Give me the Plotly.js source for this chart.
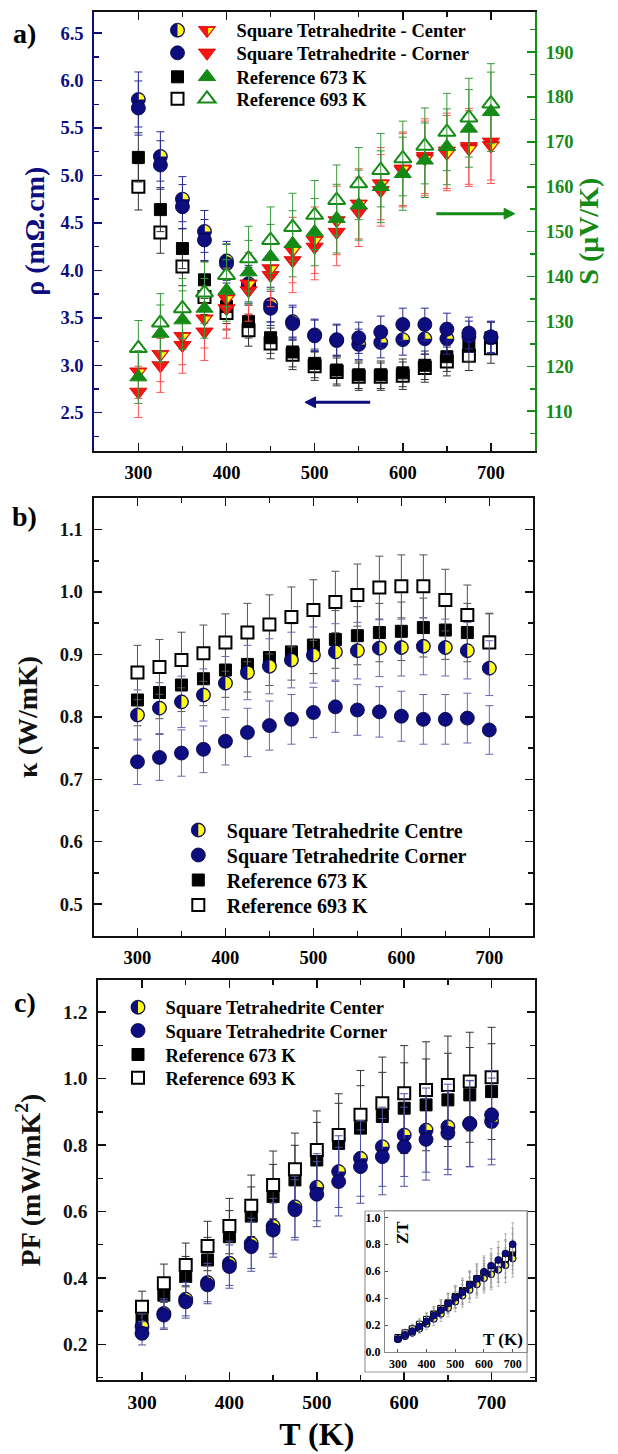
<!DOCTYPE html>
<html><head><meta charset="utf-8">
<script src="https://cdn.plot.ly/plotly-3.0.1.min.js"></script>
<style>html,body{margin:0;padding:0;background:#fff;}#chart{width:618px;height:1454px;}</style>
</head><body><div id="chart"></div>
<script>
// ---------- DATA ----------
const T = [300,325,350,375,400,425,450,475,500,525,550,575,600,625,650,675,700];
// (a) resistivity, mOhm.cm
const rhoCenter = [5.80,5.20,4.75,4.41,4.10,3.86,3.64,3.46,3.32,3.26,3.22,3.24,3.27,3.28,3.28,3.30,3.29];
const rhoCorner = [5.71,5.11,4.67,4.32,4.07,3.84,3.60,3.44,3.31,3.27,3.29,3.35,3.43,3.43,3.38,3.34,3.30];
const rho673    = [5.19,4.64,4.23,3.90,3.62,3.46,3.29,3.14,3.02,2.95,2.90,2.90,2.92,3.00,3.09,3.20,3.29];
const rho693    = [4.88,4.40,4.04,3.72,3.55,3.37,3.23,3.11,2.99,2.93,2.88,2.88,2.89,2.97,3.04,3.10,3.18];
// (a) Seebeck coefficient, uV/K
const sCenter = [118.8,122.7,126.7,130.6,135.1,138.4,141.8,145.9,148.1,152.5,156.2,160.7,164.0,166.3,167.5,168.5,169.2];
const sCorner = [114.3,120.2,124.7,127.7,132.9,136.9,140.3,143.6,146.6,149.9,154.4,159.2,163.7,166.8,168.0,169.0,170.0];
const s673    = [117.6,127.3,130.3,132.9,136.9,141.0,144.4,147.3,149.9,152.9,155.9,160.0,162.9,165.9,168.9,173.0,176.7];
const s693    = [124.0,129.7,132.9,136.4,140.3,144.0,148.1,151.0,153.7,157.0,160.7,163.7,166.3,169.1,172.2,175.4,178.5];
// (b) thermal conductivity, W/mK
const kCenter = [0.803,0.814,0.824,0.835,0.854,0.871,0.881,0.891,0.899,0.904,0.906,0.910,0.911,0.913,0.911,0.906,0.878];
const kCorner = [0.728,0.735,0.742,0.748,0.761,0.775,0.786,0.796,0.807,0.816,0.811,0.808,0.801,0.796,0.796,0.798,0.779];
const k673    = [0.827,0.839,0.851,0.861,0.875,0.884,0.895,0.904,0.915,0.924,0.930,0.935,0.937,0.943,0.939,0.935,0.920];
const k693    = [0.871,0.880,0.891,0.902,0.919,0.935,0.948,0.960,0.971,0.984,0.995,1.007,1.009,1.009,0.987,0.963,0.919];
// (c) power factor, mW/mK^2
const pfCenter = [0.253,0.293,0.336,0.386,0.444,0.504,0.556,0.614,0.673,0.720,0.760,0.795,0.830,0.845,0.855,0.865,0.871];
const pfCorner = [0.233,0.288,0.328,0.379,0.434,0.494,0.544,0.605,0.652,0.690,0.735,0.765,0.795,0.817,0.836,0.864,0.891];
const pf673    = [0.273,0.348,0.404,0.454,0.524,0.586,0.645,0.695,0.755,0.805,0.851,0.886,0.911,0.921,0.936,0.951,0.961];
const pf693    = [0.313,0.384,0.439,0.496,0.556,0.617,0.680,0.727,0.785,0.830,0.891,0.926,0.956,0.966,0.981,0.991,1.004];
// (c inset) figure of merit ZT
const ztCenter = [0.095,0.117,0.143,0.173,0.208,0.246,0.284,0.327,0.374,0.418,0.461,0.502,0.547,0.578,0.610,0.644,0.694];
const ztCorner = [0.096,0.127,0.155,0.190,0.228,0.271,0.311,0.361,0.404,0.444,0.498,0.544,0.595,0.641,0.683,0.731,0.800];
const zt673    = [0.099,0.135,0.166,0.198,0.240,0.282,0.324,0.365,0.413,0.457,0.503,0.545,0.583,0.610,0.648,0.687,0.731];
const zt693    = [0.108,0.142,0.172,0.206,0.242,0.280,0.323,0.360,0.404,0.443,0.492,0.529,0.568,0.598,0.646,0.695,0.765];
// relative error bars (%)
const errRho = 5, errS = 5, errK = 5, errPF = 15, errZT = 20;
// legend labels
const namesA = ['Square Tetrahedrite - Center','Square Tetrahedrite - Corner','Reference 673 K','Reference 693 K'];
const namesB = ['Square Tetrahedrite Centre','Square Tetrahedrite Corner','Reference 673 K','Reference 693 K'];
const namesC = ['Square Tetrahedrite Center','Square Tetrahedrite Corner','Reference 673 K','Reference 693 K'];

// ---------- STYLE ----------
const W = 618, H = 1454;
const FONT = '"Liberation Serif","Times New Roman",serif';
const NAVY = '#0d0d80', YEL = '#ffff1a', RED = '#ff1212', GREEN = '#168a16', BLK = '#111111';
const f = (size, color) => ({family: FONT, size: size, color: color || '#000', weight: 700});
const PX = v => v / W, PY = v => 1 - v / H;

function tr(x, y, xa, ya, marker, err, errColor, legendId, name, meta, show) {
  return {type: 'scatter', mode: 'markers', x: x, y: y, xaxis: xa, yaxis: ya, marker: marker,
    error_y: {type: 'percent', value: err, color: errColor, thickness: 1, width: 4},
    legend: legendId, name: name, showlegend: show !== false, meta: meta, hoverinfo: 'skip'};
}
const mCirc = s => ({symbol: 'circle', size: s, color: NAVY, line: {color: '#00003a', width: 0.8}});
const mSqF = s => ({symbol: 'square', size: s, color: '#000', line: {color: '#000', width: 1}});
const mSqO = (s, w) => ({symbol: 'square', size: s, color: '#fff', line: {color: '#000', width: w || 2}});
const mTriD = s => ({symbol: 'triangle-down', size: s, color: RED, line: {color: '#d00000', width: 0.8}});
const mTriF = s => ({symbol: 'triangle-up', size: s, color: GREEN, line: {color: GREEN, width: 1}});
const mTriO = s => ({symbol: 'triangle-up', size: s, color: '#fff', line: {color: GREEN, width: 2}});

const data = [
  // (a) resistivity on left axis (legend symbols only; text is shared with the triangles)
  tr(T, rho693, 'x', 'y', mSqO(12), errRho, '#333', 'legend4', ' ', null),
  tr(T, rho673, 'x', 'y', mSqF(12), errRho, '#333', 'legend3', ' ', null),
  tr(T, rhoCenter, 'x', 'y', mCirc(14), errRho, '#2a2a90', 'legend', ' ', 'q'),
  tr(T, rhoCorner, 'x', 'y', mCirc(14), errRho, '#2a2a90', 'legend2', ' ', null),
  // (a) Seebeck on right axis
  tr(T, sCorner, 'x', 'y2', mTriD(15), errS, '#ff5050', 'legend6', namesA[1], null),
  tr(T, sCenter, 'x', 'y2', mTriD(15), errS, '#ff5050', 'legend5', namesA[0], 't'),
  tr(T, s693, 'x', 'y2', mTriO(15), errS, '#3a9a3a', 'legend8', namesA[3], null),
  tr(T, s673, 'x', 'y2', mTriF(15), errS, '#3a9a3a', 'legend7', namesA[2], null),
  // (b)
  tr(T, k673, 'x2', 'y3', mSqF(12), errK, '#555', 'legend11', namesB[2], null),
  tr(T, k693, 'x2', 'y3', mSqO(12), errK, '#555', 'legend12', namesB[3], null),
  tr(T, kCenter, 'x2', 'y3', mCirc(14), errK, '#6a6ab0', 'legend9', namesB[0], 'h'),
  tr(T, kCorner, 'x2', 'y3', mCirc(14), errK, '#6a6ab0', 'legend10', namesB[1], null),
  // (c)
  tr(T, pf673, 'x3', 'y4', mSqF(12), errPF, '#333', 'legend15', namesC[2], null),
  tr(T, pf693, 'x3', 'y4', mSqO(12), errPF, '#333', 'legend16', namesC[3], null),
  tr(T, pfCenter, 'x3', 'y4', mCirc(14), errPF, '#5050a0', 'legend13', namesC[0], 'q'),
  tr(T, pfCorner, 'x3', 'y4', mCirc(14), errPF, '#5050a0', 'legend14', namesC[1], null),
  // (c) inset ZT
  tr(T, zt673, 'x4', 'y5', mSqF(6), errZT, '#999', 'legend', 'ZT 673', null, false),
  tr(T, zt693, 'x4', 'y5', mSqO(6, 1), errZT, '#999', 'legend', 'ZT 693', null, false),
  tr(T, ztCenter, 'x4', 'y5', mCirc(7), errZT, '#999', 'legend', 'ZT center', 'h', false),
  tr(T, ztCorner, 'x4', 'y5', mCirc(7), errZT, '#999', 'legend', 'ZT corner', null, false)
];
data.forEach(d => { if (d.marker.size < 8) { d.error_y.width = 1.5; d.error_y.thickness = 0.7; } });

function xAx(x0, x1, anchor, size) {
  return {domain: [PX(x0), PX(x1)], anchor: anchor, range: [250, 750], tick0: 300, dtick: 100,
    ticks: 'inside', ticklen: 8, tickwidth: 1.5, tickcolor: BLK, showline: true, linecolor: BLK, linewidth: 2,
    mirror: 'ticks', showgrid: false, zeroline: false, tickfont: f(size), ticklabelstandoff: 4,
    minor: {dtick: 50, tick0: 300, ticks: 'inside', ticklen: 5, tickwidth: 1.5, tickcolor: BLK}};
}
function yAx(y0, y1, anchor, range, tick0, dtick, minor, color, size, title, tsize, standoff) {
  return {domain: [PY(y1), PY(y0)], anchor: anchor, range: range, tick0: tick0, dtick: dtick, tickformat: '.1f',
    ticks: 'inside', ticklen: 8, tickwidth: 1.5, tickcolor: color, showline: true, linecolor: color, linewidth: 2,
    mirror: 'ticks', showgrid: false, zeroline: false, tickfont: f(size, color), ticklabelstandoff: 5,
    minor: {dtick: minor, ticks: 'inside', ticklen: 5, tickwidth: 1.5, tickcolor: color},
    title: {text: title, font: f(tsize, color), standoff: standoff}};
}

// arrow geometry (in axis units)
const arrowS = {tail: 638, head: 727, level: 154.0, back: 12, half: 1.2};
const arrowRho = {tail: 563, head: 489, level: 2.61, back: 12, half: 0.057};

const layout = {
  width: W, height: H, autosize: false, margin: {l: 0, r: 0, t: 0, b: 0, pad: 0},
  paper_bgcolor: '#fff', plot_bgcolor: '#fff', showlegend: true, font: f(16),
  // (a)
  xaxis: xAx(94.3, 535, 'y', 18.5),
  yaxis: Object.assign(yAx(11.7, 450.7, 'x', [2.1, 6.725], 2.5, 0.5, 0.25, NAVY, 18.5, 'ρ (mΩ.cm)', 28, 8), {mirror: false}),
  yaxis2: Object.assign(yAx(11.7, 450.7, 'x', [101.2, 199], 110, 10, 5, GREEN, 18.5, 'S (μV/K)', 28, 6),
    {overlaying: 'y', side: 'right', mirror: false, tickformat: 'd'}),
  // (b)
  xaxis2: xAx(93.5, 533.3, 'y3', 18.5),
  yaxis3: yAx(497.7, 936, 'x2', [0.449, 1.151], 0.5, 0.1, 0.05, BLK, 18.5, 'κ (W/mK)', 28, 14),
  // (c)
  xaxis3: Object.assign(xAx(98.3, 535.3, 'y4', 19.5), {title: {text: 'T (K)', font: f(32), standoff: 10}}),
  yaxis4: yAx(980, 1380, 'x3', [0.0925, 1.297], 0.2, 0.2, 0.1, BLK, 19.5, 'PF (mW/mK<sup>2</sup>)', 28, 14),
  // inset
  xaxis4: {domain: [PX(385), PX(527)], anchor: 'y5', range: [255, 750], tick0: 300, dtick: 100,
    ticks: 'inside', ticklen: 3, tickwidth: 1, tickcolor: '#555', showline: true, linecolor: '#888', linewidth: 1,
    mirror: true, showgrid: false, zeroline: false, tickfont: f(12), ticklabelstandoff: 1},
  yaxis5: {domain: [PY(1352), PY(1211)], anchor: 'x4', range: [0, 1.047], tick0: 0, dtick: 0.2, tickformat: '.1f',
    ticks: 'inside', ticklen: 3, tickwidth: 1, tickcolor: '#555', showline: true, linecolor: '#888', linewidth: 1,
    mirror: true, showgrid: false, zeroline: false, tickfont: f(12), ticklabelstandoff: 1},
  shapes: [
    {type: 'rect', xref: 'paper', yref: 'paper', x0: PX(365), x1: PX(527), y0: PY(1372), y1: PY(1211),
      line: {color: '#999', width: 1.2}, fillcolor: 'rgba(0,0,0,0)', layer: 'above'},
    {type: 'line', xref: 'x', yref: 'y2', x0: arrowS.tail, x1: arrowS.head - 4, y0: arrowS.level, y1: arrowS.level,
      line: {color: GREEN, width: 3}},
    {type: 'path', xref: 'x', yref: 'y2', fillcolor: GREEN, line: {color: GREEN, width: 1},
      path: 'M' + arrowS.head + ',' + arrowS.level + ' L' + (arrowS.head - arrowS.back) + ',' + (arrowS.level + arrowS.half) +
        ' L' + (arrowS.head - arrowS.back) + ',' + (arrowS.level - arrowS.half) + ' Z'},
    {type: 'line', xref: 'x', yref: 'y', x0: arrowRho.tail, x1: arrowRho.head + 4, y0: arrowRho.level, y1: arrowRho.level,
      line: {color: NAVY, width: 3}},
    {type: 'path', xref: 'x', yref: 'y', fillcolor: NAVY, line: {color: NAVY, width: 1},
      path: 'M' + arrowRho.head + ',' + arrowRho.level + ' L' + (arrowRho.head + arrowRho.back) + ',' + (arrowRho.level + arrowRho.half) +
        ' L' + (arrowRho.head + arrowRho.back) + ',' + (arrowRho.level - arrowRho.half) + ' Z'}
  ],
  annotations: [
    {xref: 'paper', yref: 'paper', x: PX(24.5), y: PY(34), xanchor: 'center', yanchor: 'middle', text: 'a)', showarrow: false, font: f(28)},
    {xref: 'paper', yref: 'paper', x: PX(24.5), y: PY(516), xanchor: 'center', yanchor: 'middle', text: 'b)', showarrow: false, font: f(28)},
    {xref: 'paper', yref: 'paper', x: PX(24.5), y: PY(1002), xanchor: 'center', yanchor: 'middle', text: 'c)', showarrow: false, font: f(28)},
    {xref: 'paper', yref: 'paper', x: PX(402.5), y: PY(1232.5), xanchor: 'center', yanchor: 'middle', text: 'ZT', textangle: -90, showarrow: false, font: f(17)},
    {xref: 'paper', yref: 'paper', x: PX(503), y: PY(1339), xanchor: 'center', yanchor: 'middle', text: 'T (K)', showarrow: false, font: f(17)}
  ]
};

// per-row legends: [id, symbol centre x px, row centre y px, font size, itemwidth]
const legendRows = [
  ['legend', 177.5, 30.7, 18.5, 30], ['legend2', 177.5, 53.3, 18.5, 30], ['legend3', 177.5, 77.3, 18.5, 30], ['legend4', 177.5, 99.3, 18.5, 30],
  ['legend5', 207, 30.7, 18.5, 49], ['legend6', 207, 53.3, 18.5, 49], ['legend7', 207, 77.3, 18.5, 49], ['legend8', 207, 99.3, 18.5, 49],
  ['legend9', 198.3, 830, 20, 47], ['legend10', 198.3, 855, 20, 47], ['legend11', 198.3, 880, 20, 47], ['legend12', 198.3, 905, 20, 47],
  ['legend13', 138, 1007.7, 18.5, 45], ['legend14', 138, 1031, 18.5, 45], ['legend15', 138, 1055, 18.5, 45], ['legend16', 138, 1078.3, 18.5, 45]
];
legendRows.forEach(r => {
  layout[r[0]] = {x: PX(r[1] - (r[4] + 10) / 2), y: PY(r[2]), xanchor: 'left', yanchor: 'middle',
    bgcolor: 'rgba(0,0,0,0)', borderwidth: 0, font: f(r[3]), itemwidth: r[4], orientation: 'v'};
});

// yellow part of the "centre" symbols
function halfD(kind, r) {
  const q = Math.max(r - 0.9, 0.5);
  if (kind === 'q') return 'M0,0L0,' + (-q) + 'A' + q + ',' + q + ' 0 0,1 ' + q + ',0Z';
  if (kind === 'h') return 'M0,' + (-q) + 'A' + q + ',' + q + ' 0 0,1 0,' + q + 'Z';
  return 'M' + 0.15 * r + ',' + (-0.3 * r) + 'L' + 0.85 * r + ',' + (-0.3 * r) + 'L' + 0.15 * r + ',' + 0.6 * r + 'Z';
}
function addHalf(path, kind) {
  const bb = path.getBBox();
  const r = kind === 't' ? bb.height / 1.5 : bb.width / 2;
  const c = path.cloneNode(false);
  c.setAttribute('d', halfD(kind, r));
  c.setAttribute('class', 'halfmark');
  c.style.fill = YEL; c.style.stroke = 'none'; c.style.strokeWidth = '0px';
  path.parentNode.insertBefore(c, path.nextSibling);
}

const gd = document.getElementById('chart');
Plotly.newPlot(gd, data, layout, {staticPlot: true, displayModeBar: false}).then(function () {
  gd.querySelectorAll('g.trace.scatter').forEach(function (g) {
    const cd = g.__data__; const t = cd && cd[0] && cd[0].trace;
    if (!t || !t.meta) return;
    g.querySelectorAll('path.point').forEach(function (p) { addHalf(p, t.meta); });
  });
  gd.querySelectorAll('g.traces').forEach(function (g) {
    const d = g.__data__; const t = d && d[0] && d[0].trace;
    if (!t || !t.meta) return;
    const p = g.querySelector('path.scatterpts'); if (!p) return;
    addHalf(p, t.marker.symbol === 'triangle-down' ? 't' : 'h');
  });
  // drop every blank text element (symbol-only legend rows, untitled axes)
  gd.querySelectorAll('text').forEach(function (el) {
    if (el.textContent.trim() === '') el.remove();
  });
});
</script>
</body></html>
